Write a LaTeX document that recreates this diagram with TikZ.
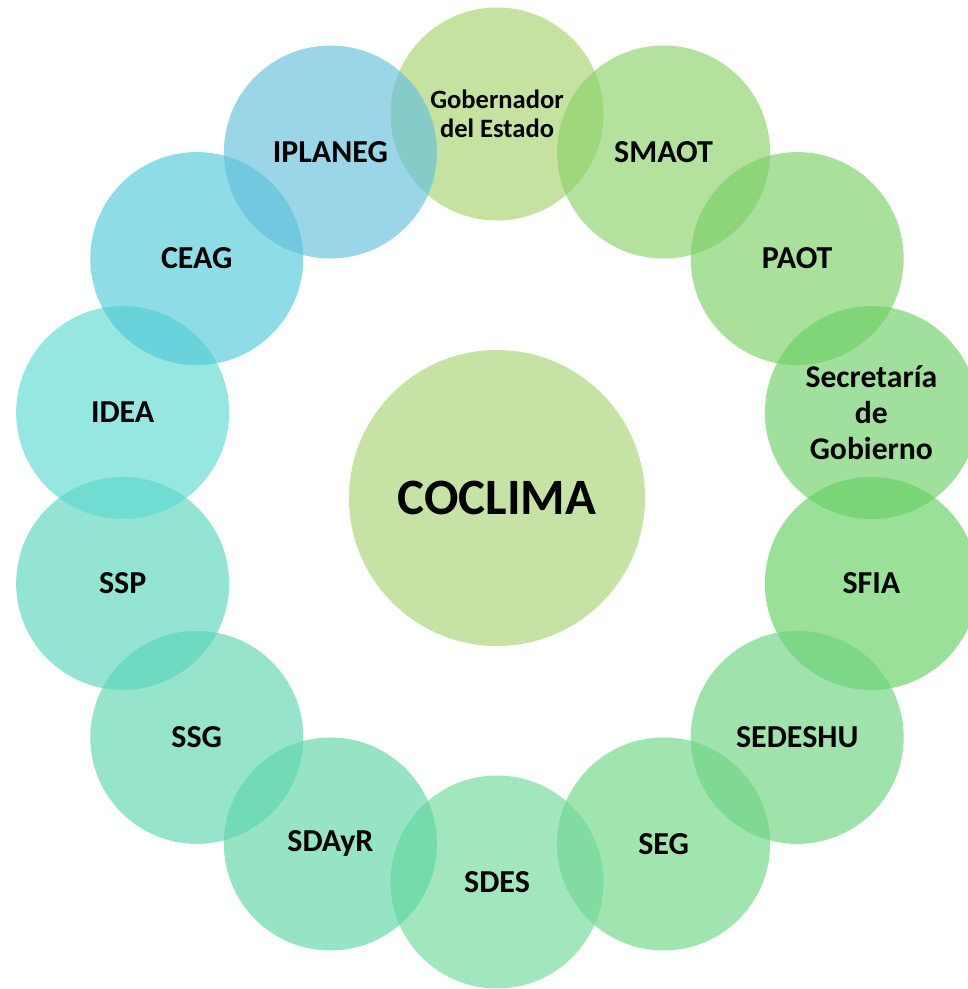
\documentclass[tikz,border=0pt]{standalone}
\usepackage{fontspec}
\setmainfont{Carlito}
\usetikzlibrary{positioning}

\definecolor{gobcol}{RGB}{166,210,109}
\definecolor{smaotcol}{RGB}{140,210,106}
\definecolor{paotcol}{RGB}{121,207,103}
\definecolor{secgobcol}{RGB}{109,207,103}
\definecolor{sfiacol}{RGB}{101,207,97}
\definecolor{sedeshucol}{RGB}{109,210,127}
\definecolor{segcol}{RGB}{109,213,133}
\definecolor{sdescol}{RGB}{112,217,155}
\definecolor{sdayrcol}{RGB}{93,213,164}
\definecolor{ssgcol}{RGB}{93,213,177}
\definecolor{sspcol}{RGB}{90,213,189}
\definecolor{ideacol}{RGB}{93,217,210}
\definecolor{ceagcol}{RGB}{81,201,217}
\definecolor{iplanegcol}{RGB}{101,192,220}
\definecolor{hubcol}{RGB}{198,226,164}

\begin{document}
\begin{tikzpicture}[member/.style={circle,minimum size=4.26cm,inner sep=0pt,fill opacity=0.65,text opacity=1,align=center,font=\bfseries\fontsize{18.2}{21}\selectfont},hub/.style={circle,minimum size=5.92cm,inner sep=0pt,fill=hubcol,font=\bfseries\fontsize{29}{32}\selectfont}]
            \useasboundingbox (-9.94,-9.82) rectangle (9.40,9.96);

            \node[hub] (coclima) at (0,0) {COCLIMA};

            \node[member,fill=gobcol,font=\bfseries\fontsize{15.1}{16.6}\selectfont] (gob) at (90:7.68) {Gobernador\\del Estado};
            \node[member,fill=smaotcol] (smaot) at (64.29:7.68) {SMAOT};
            \node[member,fill=paotcol] (paot) at (38.57:7.68) {PAOT};
            \node[member,fill=secgobcol,font=\bfseries\fontsize{18}{20.6}\selectfont] (secgob) at (12.86:7.68) {Secretaría\\de\\Gobierno};
            \node[member,fill=sfiacol] (sfia) at (-12.86:7.68) {SFIA};
            \node[member,fill=sedeshucol] (sedeshu) at (-38.57:7.68) {SEDESHU};
            \node[member,fill=segcol] (seg) at (-64.29:7.68) {SEG};
            \node[member,fill=sdescol] (sdes) at (-90:7.68) {SDES};
            \node[member,fill=sdayrcol] (sdayr) at (-115.71:7.68) {SDAyR};
            \node[member,fill=ssgcol] (ssg) at (-141.43:7.68) {SSG};
            \node[member,fill=sspcol] (ssp) at (-167.14:7.68) {SSP};
            \node[member,fill=ideacol] (idea) at (167.14:7.68) {IDEA};
            \node[member,fill=ceagcol] (ceag) at (141.43:7.68) {CEAG};
            \node[member,fill=iplanegcol] (iplaneg) at (115.71:7.68) {IPLANEG};
        \end{tikzpicture}
\end{document}
